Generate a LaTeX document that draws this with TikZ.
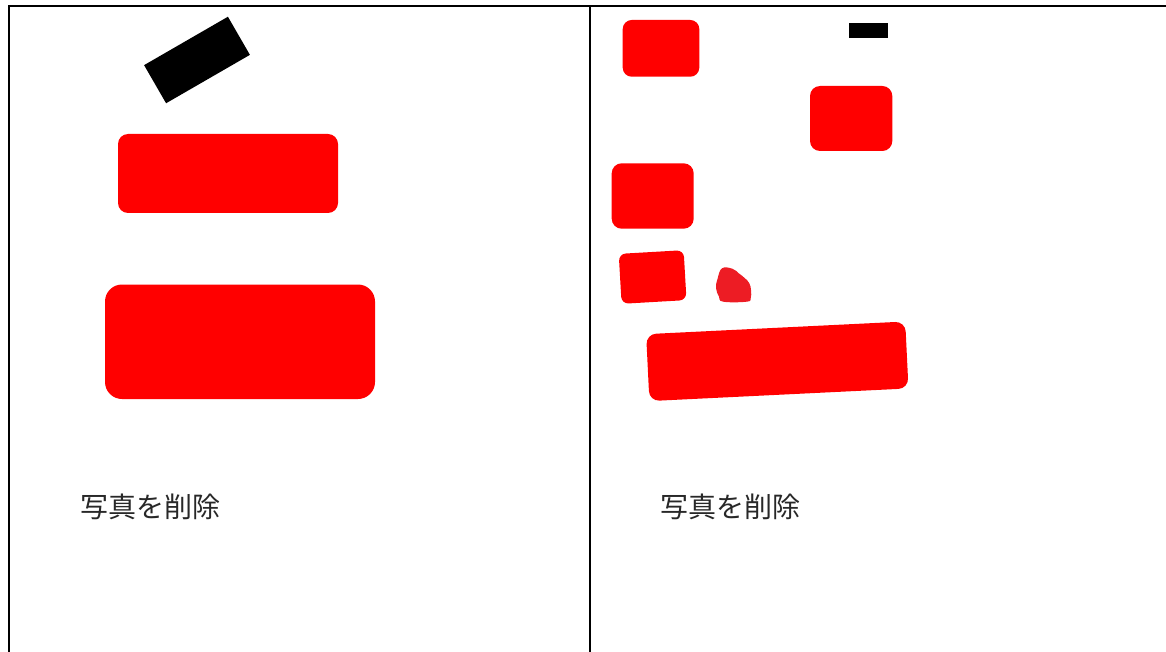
\documentclass[tikz,border=0pt]{standalone}
\usepackage{fontspec}
\newfontfamily\jpfont{Noto Sans CJK JP}
\definecolor{blobred}{RGB}{237,28,36}
\definecolor{captext}{RGB}{40,40,40}
\tikzset{
  redbox/.style={fill=red},
  frameline/.style={line width=2pt},
  caption/.style={anchor=base west, inner sep=0pt, text=captext, font=\jpfont\fontsize{28}{33}\selectfont}
}
\begin{document}
\begin{tikzpicture}[x=1pt, y=-1pt]
      \useasboundingbox (0,0) rectangle (1166,652);

      \draw[frameline] (8,6)--(1166,6);
      \draw[frameline] (9,6)--(9,652);
      \draw[frameline] (589.5,6)--(589.5,652);

      % left panel
      \fill[black, rotate around={30:(197,60)}] (148.6,38) rectangle (245.4,82);
      \fill[redbox, rounded corners=10pt] (118,134) rectangle (338,213);
      \fill[redbox, rounded corners=17pt] (105,284.5) rectangle (375,399);
      \node[caption] (leftcap) at (80.5,517) {写真を削除};

      % right panel
      \fill[redbox, rounded corners=9pt] (622.7,20) rectangle (699.3,76.7);
      \fill[black] (849.3,23.3) rectangle (887.7,38.3);
      \fill[redbox, rounded corners=10pt] (810,86) rectangle (892.3,151);
      \fill[redbox, rounded corners=10pt] (611.7,163.3) rectangle (693.7,228.7);
      \fill[redbox, rounded corners=7pt, rotate around={3.3:(652.6,277)}] (620.1,252) rectangle (685.1,302);
      \fill[blobred] plot[smooth cycle, tension=0.7] coordinates {(722,268.3) (732.5,268.8) (739,273.5) (745,278.3) (749.3,283.3) (751,290) (750.7,298.3) (746.7,301.7) (723.3,301.7) (719,296.7) (716,288) (717.5,279)};
      \fill[redbox, rounded corners=10pt, rotate around={2.8:(777.3,361.3)}] (647.6,327.8) rectangle (907,394.8);
      \node[caption] (rightcap) at (660.5,517) {写真を削除};
    \end{tikzpicture}
\end{document}
